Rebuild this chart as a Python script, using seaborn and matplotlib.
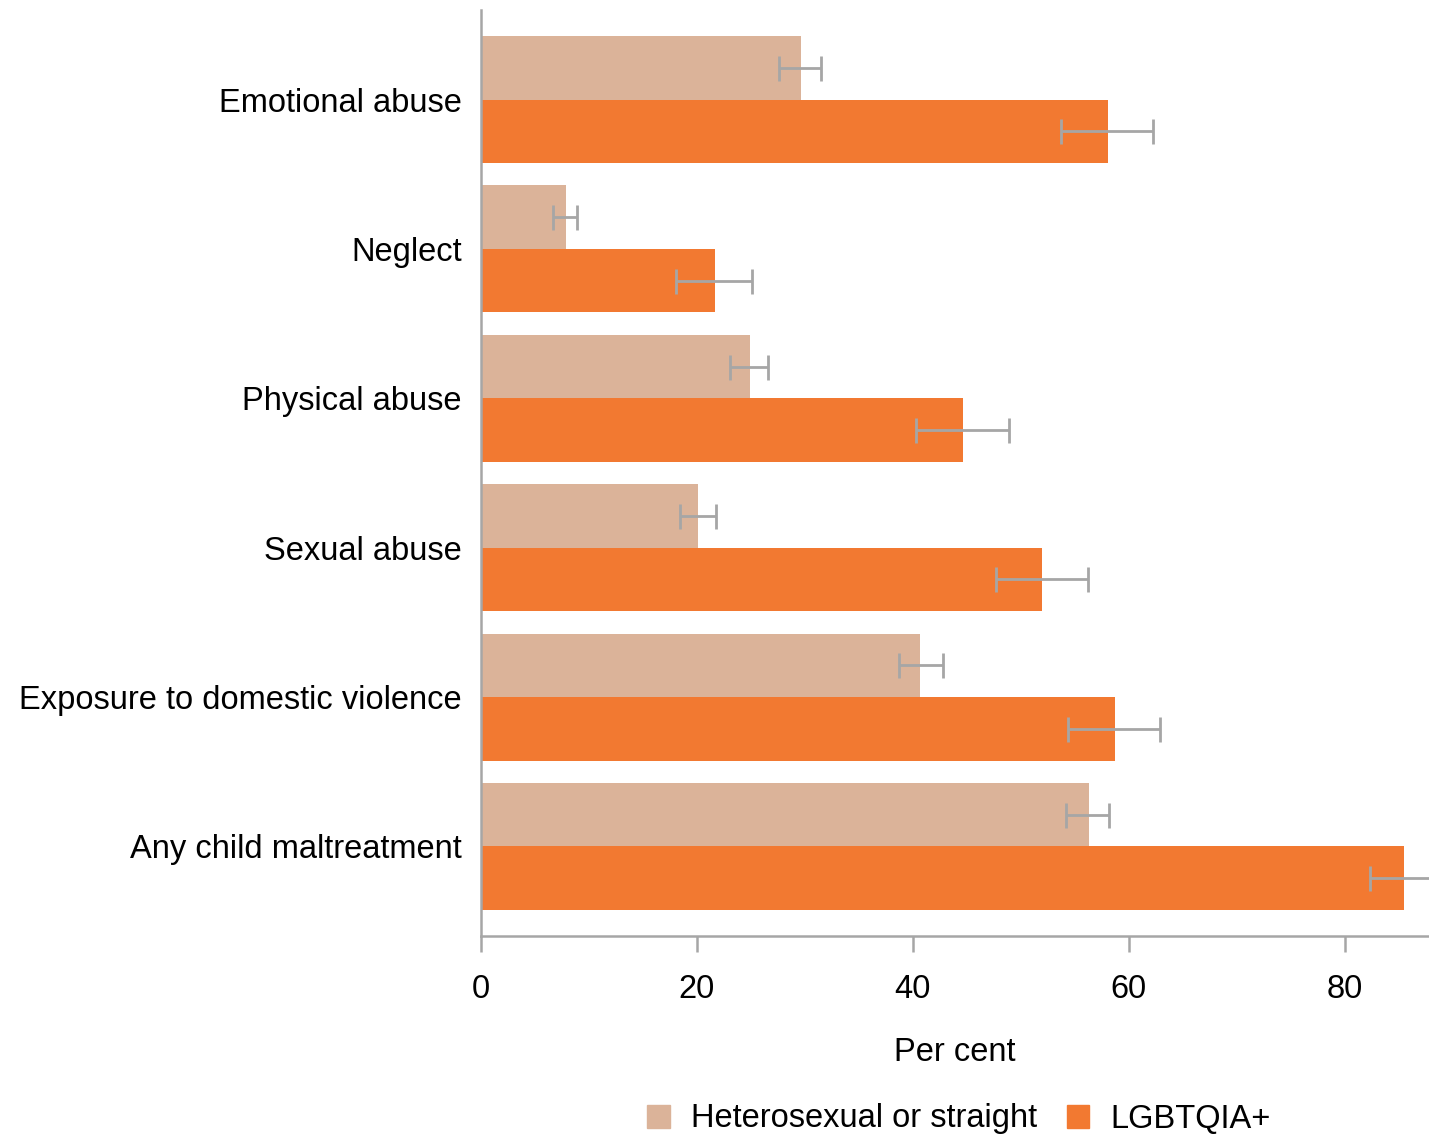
import numpy as np
import pandas as pd
import matplotlib
matplotlib.use("Agg")
import matplotlib.pyplot as plt
import seaborn as sns

categories = [
    "Emotional abuse",
    "Neglect",
    "Physical abuse",
    "Sexual abuse",
    "Exposure to domestic violence",
    "Any child maltreatment",
]
groups = ["Heterosexual or straight", "LGBTQIA+"]

hetero_values = [29.6, 7.9, 24.9, 20.1, 40.7, 56.3]
hetero_low = [27.6, 6.7, 23.1, 18.4, 38.7, 54.2]
hetero_high = [31.5, 8.9, 26.6, 21.8, 42.8, 58.2]

lgbt_values = [58.1, 21.7, 44.6, 52.0, 58.7, 85.5]
lgbt_low = [53.7, 18.1, 40.3, 47.7, 54.4, 82.3]
lgbt_high = [62.2, 25.1, 48.9, 56.2, 62.9, 88.7]

x_ticks = [0, 20, 40, 60, 80]

colors = {"Heterosexual or straight": "#DBB399", "LGBTQIA+": "#F27931"}
grey = "#A6A6A6"
fs = 23.5

df = pd.DataFrame({
    "category": categories * 2,
    "group": [groups[0]] * len(categories) + [groups[1]] * len(categories),
    "value": hetero_values + lgbt_values,
})

sns.set_theme(style="white")
plt.rcParams["font.family"] = ["Liberation Sans", "DejaVu Sans"]

fig = plt.figure(figsize=(14.29, 11.36), dpi=100)
ax = fig.add_axes([481 / 1429, 1 - 936 / 1136, 1 - 481 / 1429, 926 / 1136])

sns.barplot(
    data=df, x="value", y="category", hue="group",
    order=categories, hue_order=groups, palette=colors,
    orient="h", width=0.85, errorbar=None, saturation=1,
    linewidth=0, ax=ax, legend=True,
)

# confidence intervals centred on each bar
ci = {groups[0]: (hetero_values, hetero_low, hetero_high),
      groups[1]: (lgbt_values, lgbt_low, lgbt_high)}
for container, g in zip(ax.containers, groups):
    vals, lo, hi = ci[g]
    ys = [p.get_y() + p.get_height() / 2 for p in container.patches]
    vals = np.array(vals)
    err = np.vstack([vals - np.array(lo), np.array(hi) - vals])
    ax.errorbar(vals, ys, xerr=err, fmt="none", ecolor=grey,
                elinewidth=2, capsize=9, capthick=2, zorder=5,
                clip_on=True)

ax.set_xlim(0, 87.8)
ax.set_ylim(5.6, -0.6)
ax.set_xticks(x_ticks)
ax.set_xticklabels([str(t) for t in x_ticks])

for side in ["top", "right"]:
    ax.spines[side].set_visible(False)
for side in ["left", "bottom"]:
    ax.spines[side].set_color(grey)
    ax.spines[side].set_linewidth(1.8)

ax.tick_params(axis="x", length=11.5, width=1.8, color=grey, pad=16,
               labelsize=fs, labelcolor="black", bottom=True, direction="out")
ax.tick_params(axis="y", length=0, pad=14, labelsize=fs, labelcolor="black")
ax.set_ylabel("")
ax.set_xlabel("Per cent", fontsize=fs, labelpad=23, color="black")

ax.legend_.remove()
handles = [plt.Rectangle((0, 0), 1, 1, color=colors[g]) for g in groups]
fig.legend(handles, groups, loc="center", bbox_to_anchor=(959 / 1429, 1 - 1119 / 1136),
           ncol=2, frameon=False, fontsize=fs, handlelength=0.7, handleheight=0.7,
           handletextpad=0.65, columnspacing=0.9, labelcolor="black")

fig.savefig("out.png", dpi=100)
